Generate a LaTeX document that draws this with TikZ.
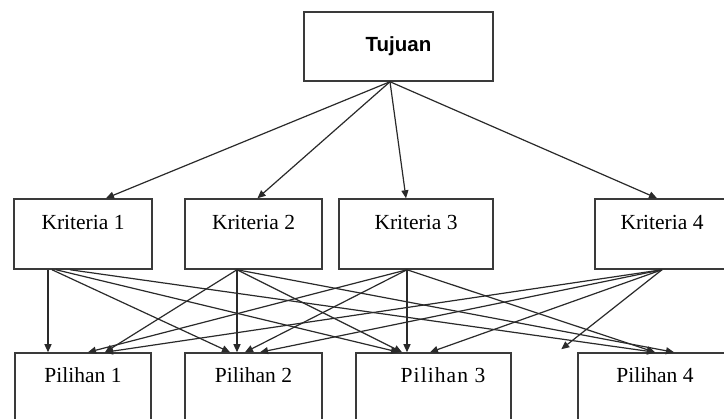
\documentclass[tikz,border=0pt]{standalone}
\usepackage{fontspec}
\setmainfont{Liberation Serif}
\newfontfamily\headfont{Liberation Sans}
\usetikzlibrary{arrows.meta}
\definecolor{boxline}{HTML}{3A3A3A}
\definecolor{arrline}{HTML}{2A2A2A}
\begin{document}
\begin{tikzpicture}[x=1pt,y=-1pt,
  box/.style={draw=boxline, line width=1.5pt, inner sep=0pt,
    font=\fontsize{21.5}{24}\selectfont},
  goalbox/.style={box, text height=40pt, text depth=29pt,
    font=\headfont\bfseries\fontsize{20.5}{24}\selectfont},
  critbox/.style={box, text height=31pt, text depth=39pt},
  altbox/.style={box, text height=30pt, text depth=50pt},
  arr/.style={draw=arrline, line width=1.2pt, -{Triangle[length=8pt,width=7pt]}}]
\useasboundingbox (0,0) rectangle (724,419);
\fill[white] (0,0) rectangle (724,419);
\clip (0,0) rectangle (724,419);

% goal
\node[goalbox, minimum width=189pt] (goal) at (398.5,46.5) {Tujuan};

% criteria
\node[critbox, minimum width=138pt] (k1) at (83,234) {Kriteria 1};
\node[critbox, minimum width=137pt] (k2) at (253.5,234) {Kriteria 2};
\node[critbox, minimum width=154pt] (k3) at (416,234) {Kriteria 3};
\node[critbox, minimum width=134pt] (k4) at (662,234) {Kriteria 4};

% alternatives
\node[altbox, minimum width=136pt] (p1) at (83,393) {Pilihan 1};
\node[altbox, minimum width=137pt] (p2) at (253.5,393) {Pilihan 2};
\node[altbox, minimum width=155pt] (p3) at (433.5,393)
  {\hspace*{19pt}\addfontfeature{LetterSpace=5}Pilihan 3};
\node[altbox, minimum width=154pt] (p4) at (655,393) {Pilihan 4};

% goal to criteria
\draw[arr] ([xshift=-8.5pt]goal.south) -- ([xshift=23pt]k1.north);
\draw[arr] ([xshift=-8.5pt]goal.south) -- ([xshift=4pt]k2.north);
\draw[arr] ([xshift=-8.5pt]goal.south) -- ([xshift=-10pt]k3.north);
\draw[arr] ([xshift=-8.5pt]goal.south) -- ([xshift=-5pt]k4.north);

% criterion 1 to alternatives
\draw[arr] ([xshift=-35pt]k1.south) -- ([xshift=-35pt]p1.north);
\draw[arr] ([xshift=-31pt]k1.south) -- ([xshift=-23.5pt]p2.north);
\draw[arr] ([xshift=-27pt]k1.south) -- ([xshift=-34.5pt]p3.north);
\draw[arr] ([xshift=-13pt]k1.south) -- (p4.north);

% criterion 2 to alternatives
\draw[arr] ([xshift=-16.5pt]k2.south) -- ([xshift=22pt]p1.north);
\draw[arr] ([xshift=-16.5pt]k2.south) -- ([xshift=-16.5pt]p2.north);
\draw[arr] ([xshift=-16.5pt]k2.south) -- ([xshift=-31.5pt]p3.north);
\draw[arr] ([xshift=-16.5pt]k2.south) -- ([xshift=19pt]p4.north);

% criterion 3 to alternatives
\draw[arr] ([xshift=-9pt]k3.south) -- ([xshift=5pt]p1.north);
\draw[arr] ([xshift=-9pt]k3.south) -- ([xshift=-8.5pt]p2.north);
\draw[arr] ([xshift=-9pt]k3.south) -- ([xshift=-26.5pt]p3.north);
\draw[arr] ([xshift=-9pt]k3.south) -- (p4.north);

% criterion 4 to alternatives
\draw[arr] (k4.south) -- ([xshift=22pt]p1.north);
\draw[arr] (k4.south) -- ([xshift=6.5pt]p2.north);
\draw[arr] (k4.south) -- ([xshift=-3.5pt]p3.north);
\draw[arr] (k4.south) -- ([xshift=-16pt,yshift=3pt]p4.north west);
\end{tikzpicture}
\end{document}
